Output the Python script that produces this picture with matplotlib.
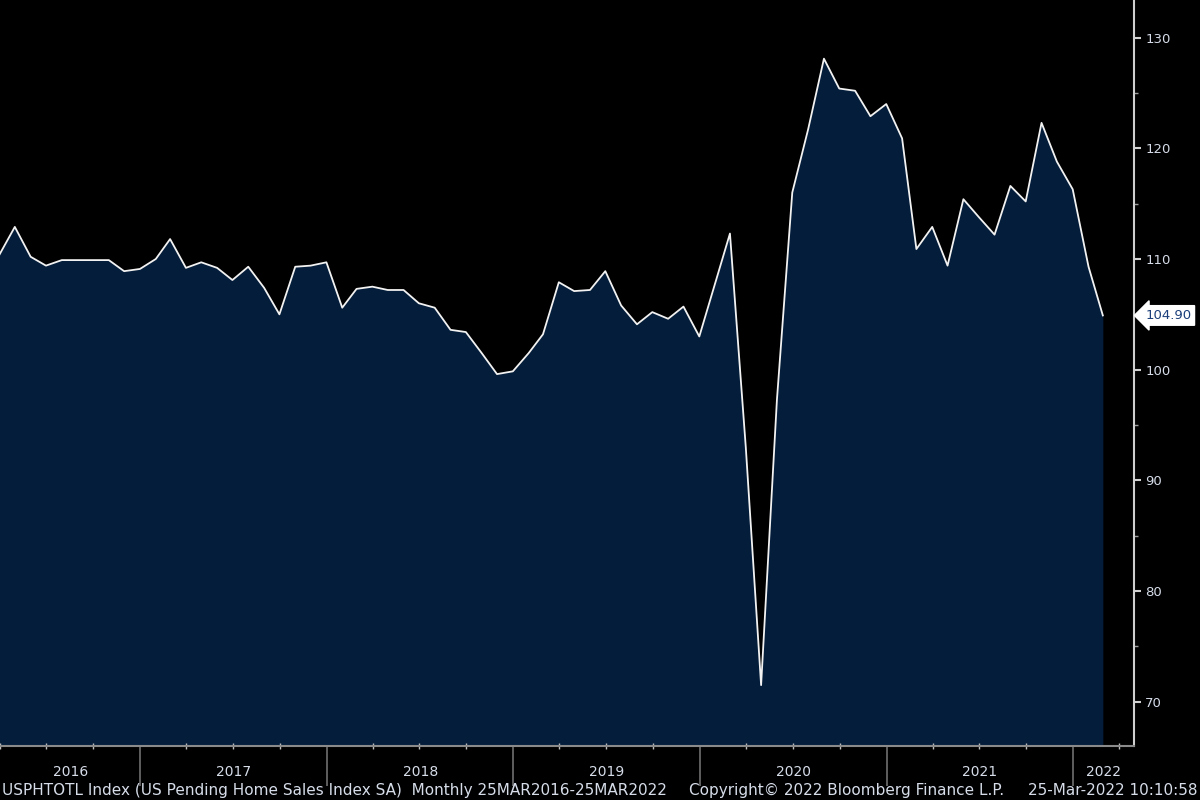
import matplotlib
matplotlib.use("Agg")
import matplotlib.pyplot as plt
import matplotlib.dates as mdates
import matplotlib.transforms as mtransforms
import pandas as pd

# monthly index values, Mar 2016 .. Feb 2022
dates = pd.date_range("2016-03-31", periods=72, freq="ME")
values = [110.4, 112.9, 110.2, 109.4, 109.9, 109.9, 109.9, 109.9, 108.9, 109.1,
          110.0, 111.8, 109.2, 109.7, 109.2, 108.1, 109.3, 107.4, 105.0, 109.3,
          109.4, 109.7, 105.6, 107.3, 107.5, 107.2, 107.2, 106.0, 105.6, 103.6,
          103.4, 101.5, 99.6, 99.85, 101.5, 103.2, 107.9, 107.1, 107.2, 108.9,
          105.8, 104.1, 105.2, 104.6, 105.7, 103.0, 107.8, 112.3, 93.0, 71.5,
          97.3, 116.0, 121.7, 128.1, 125.4, 125.2, 122.9, 124.0, 120.9, 110.9,
          112.9, 109.4, 115.4, 113.8, 112.2, 116.6, 115.2, 122.3, 118.8, 116.3,
          109.3, 104.9]
years = [2016, 2017, 2018, 2019, 2020, 2021, 2022]
y_ticks = [70, 80, 90, 100, 110, 120, 130]
last_label = "104.90"

x_lo, x_hi = pd.Timestamp("2016-04-01"), pd.Timestamp("2022-04-30")
y_lo, y_hi = 66.0, 133.4

txt = "#d6dde9"
navy = "#031d3b"

fig = plt.figure(figsize=(12, 8), dpi=100, facecolor="black")
ax = fig.add_axes([0.0, 0.0675, 0.945, 0.9325])
ax.set_facecolor("black")

ax.fill_between(dates, values, y_lo, color=navy, lw=0)
ax.plot(dates, values, color="#f2f2f2", lw=1.3)

# spines: only bottom and right
for s in ["top", "left"]:
    ax.spines[s].set_visible(False)
ax.spines["right"].set_color("#cfcfcf")
ax.spines["right"].set_linewidth(1.5)
ax.spines["bottom"].set_color("#8a8a8a")
ax.spines["bottom"].set_linewidth(1.5)

# right value axis
ax.yaxis.tick_right()
ax.set_yticks(y_ticks)
ax.set_yticks([v + 5 for v in y_ticks[:-1]], minor=True)
ax.tick_params(axis="y", which="major", direction="out", length=5, width=1.5,
               color="#cfcfcf", labelcolor=txt, labelsize=9.5, pad=3)
ax.tick_params(axis="y", which="minor", direction="out", length=3, width=1,
               color="#9a9a9a")

# bottom time axis: long separators at year starts, small quarterly ticks
ax.xaxis.set_major_locator(mdates.YearLocator())
ax.xaxis.set_minor_locator(mdates.MonthLocator(bymonth=[4, 7, 10]))
ax.xaxis.set_major_formatter(plt.NullFormatter())
ax.tick_params(axis="x", which="major", direction="out", length=29, width=1.2,
               color="#6f6f6f")
ax.tick_params(axis="x", which="minor", direction="inout", length=4, width=1,
               color="#bdbdbd")

ax.set_xlim(x_lo, x_hi)
ax.set_ylim(y_lo, y_hi)

trans = mtransforms.blended_transform_factory(ax.transData, fig.transFigure)
for yr in years:
    a = max(pd.Timestamp(f"{yr}-01-01"), x_lo)
    b = min(pd.Timestamp(f"{yr + 1}-01-01"), x_hi)
    mid = a + (b - a) / 2
    ax.text(mid, 0.035, str(yr), transform=trans, ha="center", va="center",
            color=txt, fontsize=10)

# last value tag
ax.annotate(last_label, xy=(1.0, values[-1]), xycoords=("axes fraction", "data"),
            xytext=(8, 0), textcoords="offset points", ha="left", va="center",
            color="#1b3f7a", fontsize=9.5,
            bbox=dict(boxstyle="larrow,pad=0.25", fc="white", ec="white"))

# footer
fy = 0.012
fig.text(0.002, fy, "USPHTOTL Index (US Pending Home Sales Index SA)  Monthly 25MAR2016-25MAR2022",
         color=txt, fontsize=11, ha="left", va="center")
fig.text(0.574, fy, "Copyright© 2022 Bloomberg Finance L.P.",
         color=txt, fontsize=11, ha="left", va="center")
fig.text(0.998, fy, "25-Mar-2022 10:10:58",
         color=txt, fontsize=11, ha="right", va="center")

fig.savefig("out.png", dpi=100, facecolor="black")
